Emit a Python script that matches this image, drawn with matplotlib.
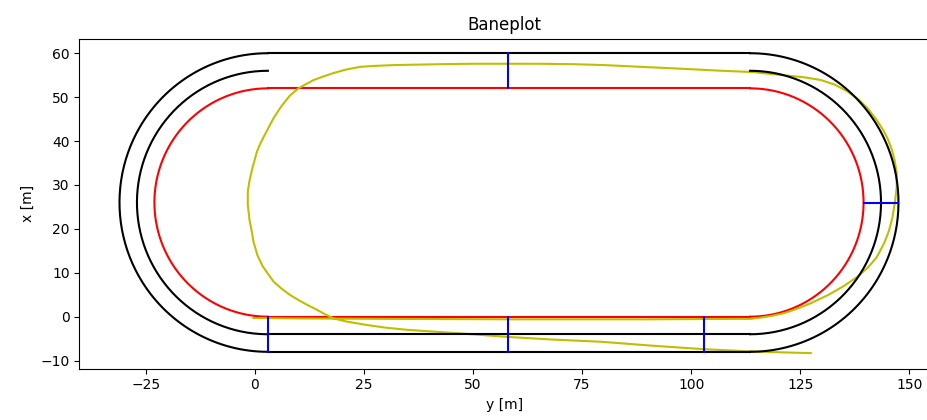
import numpy as np
import matplotlib
matplotlib.use('Agg')
import matplotlib.pyplot as plt

# track geometry (metres)
straight_start = 3.0
straight_end = 113.5
center_x = 26.0
lane_radius = [26.0, 30.0, 34.0]
lane_color = ['r', 'k', 'k']
lane_top_straight = [True, False, True]

# blue markers: positions along the straights, and the arc angle on the right bend
bottom_markers = [3.0, 58.0, 103.0]
top_markers = [58.0]
right_marker_angles = [0.0]

# recorded trajectory (horizontal = y, vertical = x)
traj_y = [-0.3, 10.0, 30.0, 60.0, 90.0, 110.0, 113.6, 116.0, 118.5, 121.3,
          124.0, 127.5, 131.5, 135.0, 138.1, 140.5, 142.5, 144.2, 145.3, 146.1,
          146.7, 147.1, 147.1, 146.6, 146.0, 145.0, 144.0, 142.5, 140.4, 138.3,
          135.8, 133.0, 129.7, 126.0, 122.1, 118.0, 114.4, 107.0, 99.1, 88.4,
          80.0, 73.1, 65.0, 57.8, 50.0, 42.5, 32.0, 27.2, 24.2, 21.0,
          18.1, 16.0, 13.5, 12.0, 10.0, 8.0, 6.0, 4.3, 2.6, 1.3,
          0.5, -0.5, -1.2, -1.6, -1.6, -1.2, -0.7, -0.3, 0.6, 1.8,
          3.0, 4.3, 6.0, 8.0, 10.0, 12.0, 14.0, 16.0, 18.1, 21.0,
          25.7, 30.0, 35.0, 41.0, 47.1, 57.8, 68.0, 79.2, 91.0, 102.9,
          113.6, 120.0, 127.4]
traj_x = [-0.3, -0.4, -0.5, -0.6, -0.6, -0.5, -0.5, -0.2, 0.2, 0.8,
          1.7, 3.1, 5.0, 7.0, 9.1, 11.2, 13.5, 16.7, 19.5, 22.5,
          26.2, 29.5, 32.7, 35.7, 38.0, 40.6, 42.5, 44.8, 47.5, 49.5,
          51.3, 52.8, 53.9, 54.5, 54.9, 55.3, 55.7, 56.0, 56.4, 56.9,
          57.3, 57.5, 57.6, 57.6, 57.6, 57.5, 57.3, 57.1, 56.9, 56.3,
          55.5, 54.8, 53.9, 53.1, 52.0, 50.3, 47.8, 45.2, 42.0, 39.5,
          37.6, 34.0, 31.0, 28.5, 25.5, 22.0, 19.5, 17.1, 14.0, 11.5,
          9.8, 8.0, 6.5, 5.0, 3.8, 2.7, 1.7, 0.6, -0.4, -1.1,
          -1.9, -2.5, -3.0, -3.4, -3.8, -4.6, -5.2, -5.7, -6.6, -7.4,
          -7.9, -8.1, -8.3]

fig = plt.figure(figsize=(9.28, 4.2), dpi=100)
ax = fig.add_axes([0.0855, 0.1221, 0.9156, 0.7857])

t_left = np.linspace(np.pi / 2, 3 * np.pi / 2, 200)
t_right = np.linspace(-np.pi / 2, np.pi / 2, 200)


def draw_lane(r, color, top, zorder):
    ax.plot([straight_start, straight_end], [center_x - r, center_x - r],
            color=color, zorder=zorder)
    if top:
        ax.plot([straight_start, straight_end], [center_x + r, center_x + r],
                color=color, zorder=zorder)
    ax.plot(straight_start + r * np.cos(t_left), center_x + r * np.sin(t_left),
            color=color, zorder=zorder)
    ax.plot(straight_end + r * np.cos(t_right), center_x + r * np.sin(t_right),
            color=color, zorder=zorder)


r_in, r_out = min(lane_radius), max(lane_radius)
draw_lane(lane_radius[0], lane_color[0], lane_top_straight[0], 2)
ax.plot(traj_y, traj_x, color='y', zorder=3)
for r, c, top in zip(lane_radius[1:], lane_color[1:], lane_top_straight[1:]):
    draw_lane(r, c, top, 4)

for p in bottom_markers:
    ax.plot([p, p], [center_x - r_in, center_x - r_out], color='b', zorder=5)
for p in top_markers:
    ax.plot([p, p], [center_x + r_in, center_x + r_out], color='b', zorder=5)
for a in right_marker_angles:
    ax.plot([straight_end + r_in * np.cos(a), straight_end + r_out * np.cos(a)],
            [center_x + r_in * np.sin(a), center_x + r_out * np.sin(a)],
            color='b', zorder=5)

ax.set_xlim(-40.2, 154.5)
ax.set_ylim(-11.85, 63.3)
ax.set_title("Baneplot")
ax.set_xlabel("y [m]")
ax.set_ylabel("x [m]")
fig.savefig("out.png", dpi=100)
